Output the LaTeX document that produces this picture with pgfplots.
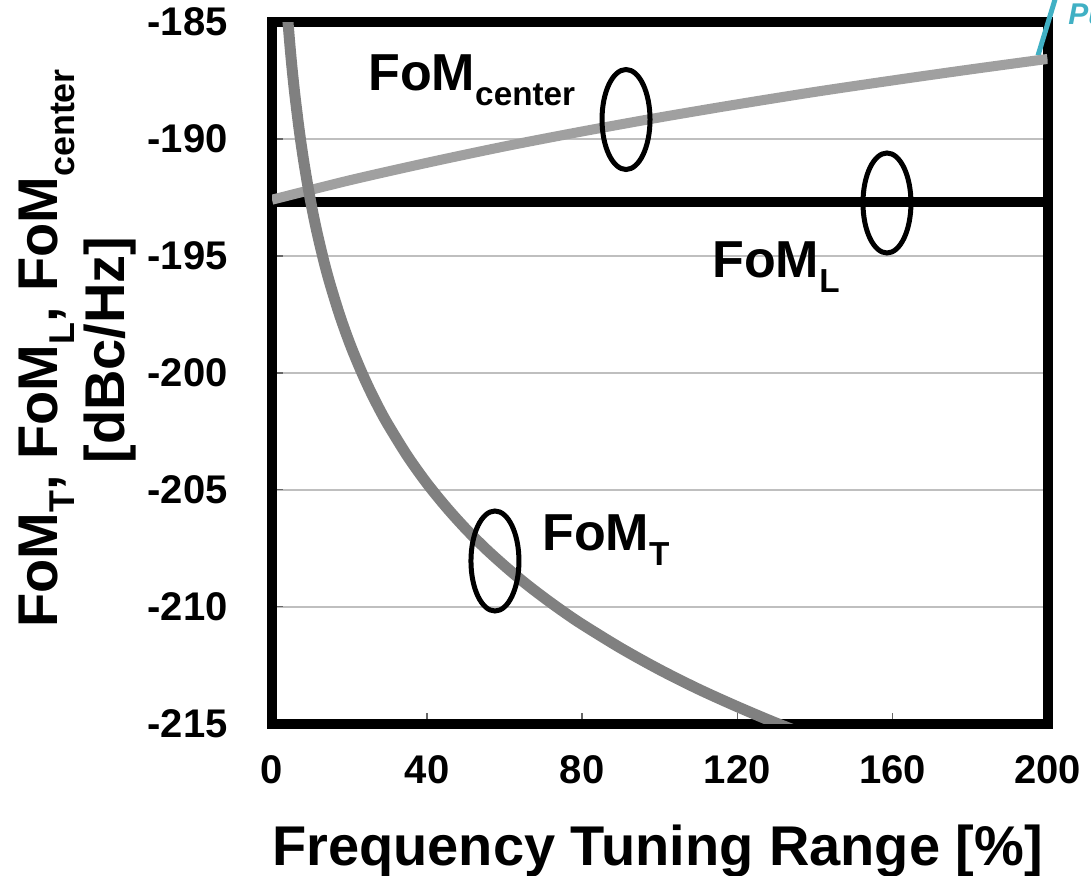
\documentclass[border=0pt]{standalone}
\usepackage{pgfplots}
\pgfplotsset{compat=1.18}
\usepackage{fontspec}
\setmainfont{Liberation Sans}
\usepackage{graphicx}
\newcommand\sub[1]{\raisebox{-0.3em}{\scalebox{0.64}{#1}}}
\definecolor{fomT}{RGB}{128,128,128}
\definecolor{fomC}{RGB}{160,160,160}
\definecolor{pucyan}{RGB}{64,176,196}

\begin{document}
\begin{tikzpicture}
% cropped logo fragment at the top right
\draw[pucyan, line width=2.5pt] (383pt,334pt) -- (391.5pt,362pt);
\node[anchor=base west, inner sep=0pt, text=pucyan, font=\fontsize{15}{18}\selectfont\bfseries\itshape] at (398pt,349.25pt) {Pu};

\begin{axis}[
  at={(0,0)}, anchor=south west,
  width=387.75pt, height=350.75pt, scale only axis,
  set layers,
  xmin=0, xmax=200, ymin=-215, ymax=-185,
  xtick={0,40,...,200}, ytick={-215,-210,...,-185},
  ymajorgrids, grid style={draw=black!25, line width=1pt},
  axis line style={line width=5pt, line cap=round},
  tick align=inside, xtick pos=bottom, ytick pos=left,
  major tick length=5.5pt, tick style={draw=black!60, line width=0.8pt},
  /pgf/number format/assume math mode=true,
  ticklabel style={font=\fontsize{20}{22}\selectfont\bfseries, inner sep=0pt},
  xticklabel style={anchor=north, yshift=-16pt},
  yticklabel style={anchor=east, xshift=-22pt},
]
% FoM_L
\addplot[black, line width=5pt] coordinates {(0,-192.7) (200,-192.7)};
% FoM_center
\addplot[fomC, line width=5pt, smooth] coordinates {
  (0,-192.6) (20,-191.77) (40,-191.02) (60,-190.32) (80,-189.68) (100,-189.08)
  (120,-188.52) (140,-187.99) (160,-187.50) (180,-187.03) (200,-186.58)
};
% FoM_T
\addplot[fomT, line width=5.5pt, smooth] coordinates {
  (3.5,-183.58) (4,-184.74) (4.5,-185.76) (5,-186.68) (5.5,-187.51) (6,-188.26)
  (7,-189.60) (8,-190.76) (9,-191.78) (10,-192.70) (11,-193.53) (12,-194.28)
  (13.5,-195.31) (15,-196.22) (17.5,-197.56) (20,-198.72) (22.5,-199.74)
  (25,-200.66) (27.5,-201.49) (30,-202.24) (35,-203.58) (40,-204.74)
  (45,-205.76) (50,-206.68) (55,-207.51) (60,-208.26) (65,-208.96)
  (70,-209.60) (75,-210.20) (80,-210.76) (90,-211.78) (100,-212.70)
  (110,-213.53) (120,-214.28) (130,-214.98) (140,-215.62)
};
\draw[line width=2.5pt] (axis cs:91.3,-189.17) ellipse [x radius=12pt, y radius=25pt];
\draw[line width=2.5pt] (axis cs:158.6,-192.74) ellipse [x radius=12pt, y radius=25pt];
\draw[line width=2.5pt] (axis cs:57.5,-208.05) ellipse [x radius=12pt, y radius=25pt];
\end{axis}

\begin{scope}[every node/.style={inner sep=0pt, font=\fontsize{26}{30}\selectfont\bfseries}]
\node[anchor=base west] at (48pt,316.75pt) {FoM\sub{center}};
\node[anchor=base west] at (220pt,223.25pt) {FoM\sub{L}};
\node[anchor=base west] at (135pt,86.75pt) {FoM\sub{T}};
\end{scope}

\begin{scope}[every node/.style={inner sep=0pt, font=\fontsize{28}{32}\selectfont\bfseries}]
\node[rotate=90, anchor=base] at (-107pt,187.5pt) {FoM\sub{T}, FoM\sub{L}, FoM\sub{center}};
\node[rotate=90, anchor=base] at (-73.5pt,186.75pt) {[dBc/Hz]};
\node[anchor=base] at (192.75pt,-70.75pt) {Frequency Tuning Range [\%]};
\end{scope}

\pgfresetboundingbox
\useasboundingbox (-136pt,-75.75pt) rectangle (409.5pt,361.75pt);
\end{tikzpicture}
\end{document}
